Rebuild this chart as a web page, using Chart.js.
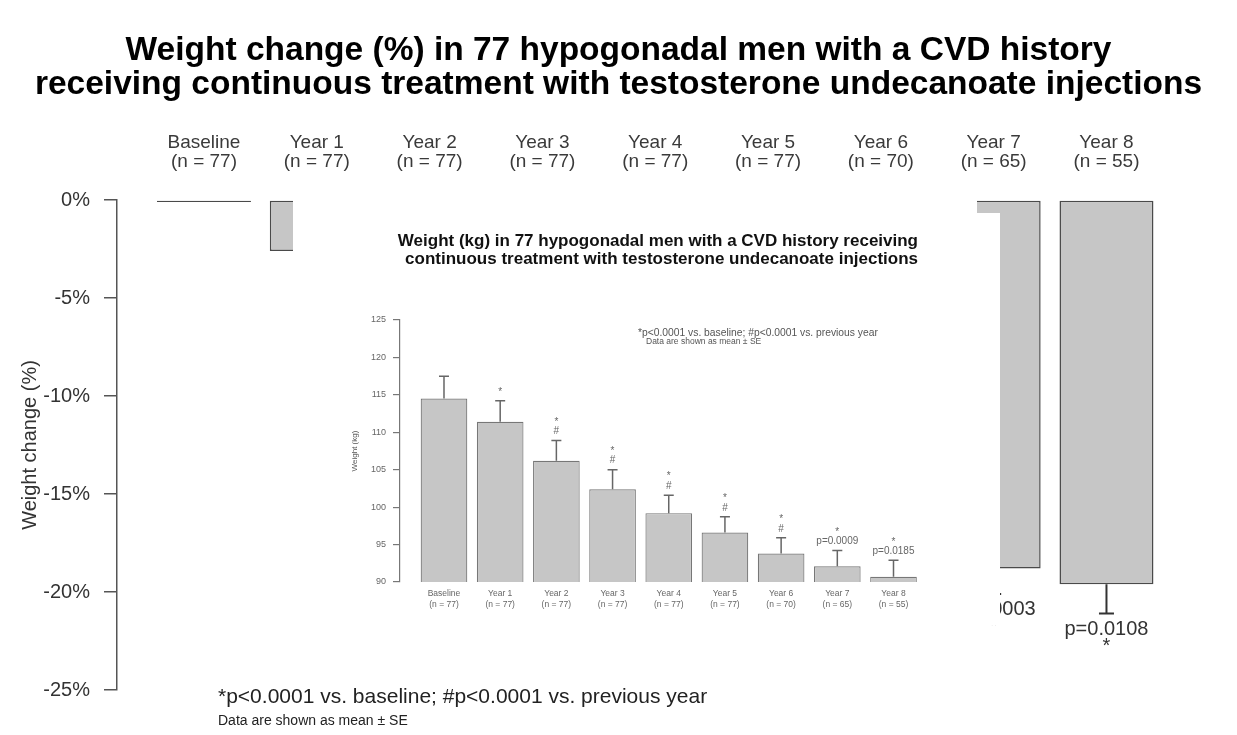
<!DOCTYPE html>
<html>
<head>
<meta charset="utf-8">
<script src="https://cdn.jsdelivr.net/npm/chart.js@4.4.1/dist/chart.umd.min.js"></script>
<style>
    body { margin: 0; background: #fff; }
    #wrap { position: relative; width: 1237px; height: 735px; }
    #inset {
        position: absolute; left: 293px; top: 198px; width: 707px; height: 427px; background: #fff;
        clip-path: polygon(0 0, 684px 0, 684px 15px, 707px 15px, 707px 427px, 0 427px);
    }
</style>
</head>
<body>
<div id="wrap">
    <canvas id="mainChart" width="1237" height="735"></canvas>
    <div id="inset"><canvas id="insetChart" width="707" height="427"></canvas></div>
</div>
<script>
// categories
const years = ["Baseline", "Year 1", "Year 2", "Year 3", "Year 4", "Year 5", "Year 6", "Year 7", "Year 8"];
const nCounts = [77, 77, 77, 77, 77, 77, 70, 65, 55];

// main chart: weight change (%)
const changePct = [0, -2.6, -6.9, -10.3, -13.2, -15.5, -17.6, -18.8, -19.6];
const changeSE = [0, 0.4, 0.6, 0.7, 0.8, 0.9, 1.0, 1.3, 1.5];
const changeNotes = [[], [], [], [], [], [], [], ["p=0.0003", "*"], ["p=0.0108", "*"]];
const pctTicks = [0, -5, -10, -15, -20, -25];

// inset chart: weight (kg)
const weightKg = [114.5, 111.4, 106.2, 102.4, 99.2, 96.6, 93.8, 92.1, 90.7];
const weightSE = [3.0, 2.8, 2.7, 2.6, 2.4, 2.1, 2.1, 2.1, 2.2];
const weightNotes = [[], ["*"], ["#", "*"], ["#", "*"], ["#", "*"], ["#", "*"], ["#", "*"], ["p=0.0009", "*"], ["p=0.0185", "*"]];
const kgTicks = [90, 95, 100, 105, 110, 115, 120, 125];

const FONT = "'Liberation Sans', Arial, sans-serif";
Chart.defaults.font.family = FONT;

function catLabel(v) {
    return [years[v], "(n = " + nCounts[v] + ")"];
}

// one-sided error bars + significance marks
const errorBarPlugin = {
    id: "errorBars",
    afterDatasetsDraw(chart, args, opts) {
        const ctx = chart.ctx;
        const xs = chart.scales.x;
        const ys = chart.scales.y;
        ctx.save();
        ctx.strokeStyle = opts.color;
        ctx.lineWidth = opts.lineWidth;
        ctx.fillStyle = opts.textColor;
        ctx.textAlign = "center";
        ctx.textBaseline = "middle";
        ctx.font = opts.font;
        opts.values.forEach(function (v, i) {
            const x = xs.getPixelForValue(i);
            const end = v + opts.dir * opts.se[i];
            const y0 = ys.getPixelForValue(v);
            const y1 = ys.getPixelForValue(end);
            if (opts.se[i] > 0) {
                ctx.beginPath();
                ctx.moveTo(x, y0);
                ctx.lineTo(x, y1);
                ctx.moveTo(x - opts.cap, y1);
                ctx.lineTo(x + opts.cap, y1);
                ctx.stroke();
            }
            opts.notes[i].forEach(function (txt, k) {
                const ty = y1 - opts.dir * (opts.noteStart + k * opts.noteStep);
                ctx.fillText(txt, x, ty);
            });
        });
        ctx.restore();
    }
};

const footNotePlugin = {
    id: "footNotes",
    afterDraw(chart, args, opts) {
        const ctx = chart.ctx;
        const area = chart.chartArea;
        ctx.save();
        ctx.fillStyle = opts.color;
        ctx.textAlign = "left";
        ctx.textBaseline = "middle";
        opts.lines.forEach(function (ln) {
            ctx.font = ln.font;
            ctx.fillText(ln.text, area.left + ln.dx, (ln.fromBottom ? area.bottom : area.top) + ln.dy);
        });
        ctx.restore();
    }
};

/* MAIN CHART */
new Chart(document.getElementById("mainChart"), {
    type: "bar",
    data: {
        datasets: [{
            data: changePct.map(function (v, i) { return { x: i, y: v }; }),
            backgroundColor: "#c6c6c6",
            borderColor: "#4a4a4a",
            borderWidth: 1.5,
            borderSkipped: false,
            minBarLength: 2,
            barPercentage: 0.833,
            categoryPercentage: 1
        }]
    },
    options: {
        responsive: false,
        animation: false,
        layout: { padding: { left: 0, right: 0, top: 0, bottom: 45 } },
        plugins: {
            legend: { display: false },
            tooltip: { enabled: false },
            title: {
                display: true,
                text: ["Weight change (%) in 77 hypogonadal men with a CVD history",
                       "receiving continuous treatment with testosterone undecanoate injections"],
                font: { size: 33.5, weight: "bold", lineHeight: 34 / 33.5 },
                color: "#000",
                padding: { top: 34, bottom: 0 }
            },
            errorBars: {
                values: changePct, se: changeSE, notes: changeNotes, dir: -1,
                color: "#333", lineWidth: 2, cap: 7.5, textColor: "#333",
                font: "20px " + FONT, noteStart: 16, noteStep: 17
            },
            footNotes: {
                color: "#222",
                lines: [
                    { text: "*p<0.0001 vs. baseline; #p<0.0001 vs. previous year", dx: 101, dy: 7, fromBottom: true, font: "21px " + FONT },
                    { text: "Data are shown as mean \u00b1 SE", dx: 101, dy: 31, fromBottom: true, font: "14px " + FONT }
                ]
            }
        },
        scales: {
            x: {
                type: "linear",
                position: "top",
                offset: false,
                min: -0.771,
                max: 9.157,
                afterBuildTicks: function (s) { s.ticks = years.map(function (_, i) { return { value: i }; }); },
                afterFit: function (s) { s.height = 98; },
                grid: { display: false, drawTicks: false, offset: false },
                border: { display: false },
                ticks: { callback: catLabel, font: { size: 19, lineHeight: 1 }, color: "#3a3a3a", padding: 28.5, autoSkip: false, maxRotation: 0 }
            },
            y: {
                min: -25,
                max: 0,
                afterBuildTicks: function (s) { s.ticks = pctTicks.map(function (v) { return { value: v }; }); },
                afterFit: function (s) { s.width = 117; },
                grid: { drawOnChartArea: false, tickLength: 13, color: "#555", lineWidth: 1.5 },
                border: { color: "#555", width: 1.5 },
                ticks: { callback: function (v) { return v + "%"; }, font: { size: 20 }, color: "#333", padding: 14 },
                title: { display: true, text: "Weight change (%)", font: { size: 20 }, color: "#333", padding: { top: 18, bottom: 0 } }
            }
        }
    },
    plugins: [errorBarPlugin, footNotePlugin]
});

/* INSET CHART */
new Chart(document.getElementById("insetChart"), {
    type: "bar",
    data: {
        datasets: [{
            data: weightKg.map(function (v, i) { return { x: i, y: v }; }),
            backgroundColor: "#c6c6c6",
            borderColor: "#777",
            borderWidth: 1.2,
            borderSkipped: false,
            barPercentage: 0.83,
            categoryPercentage: 1
        }]
    },
    options: {
        responsive: false,
        animation: false,
        layout: { padding: { left: 0, right: 82, top: 0, bottom: 0 } },
        plugins: {
            legend: { display: false },
            tooltip: { enabled: false },
            title: {
                display: true,
                align: "end",
                text: ["Weight (kg) in 77 hypogonadal men with a CVD history receiving",
                       "continuous treatment with testosterone undecanoate injections"],
                font: { size: 17, weight: "bold", lineHeight: 18 / 17 },
                color: "#111",
                padding: { top: 34, bottom: 52 }
            },
            errorBars: {
                values: weightKg, se: weightSE, notes: weightNotes, dir: 1,
                color: "#666", lineWidth: 1.5, cap: 5, textColor: "#666",
                font: "10px " + FONT, noteStart: 9, noteStep: 9.5
            },
            footNotes: {
                color: "#555",
                lines: [
                    { text: "*p<0.0001 vs. baseline; #p<0.0001 vs. previous year", dx: 238, dy: 13, fromBottom: false, font: "10.3px " + FONT },
                    { text: "Data are shown as mean \u00b1 SE", dx: 246, dy: 22, fromBottom: false, font: "8.5px " + FONT }
                ]
            }
        },
        scales: {
            x: {
                type: "linear",
                position: "bottom",
                offset: false,
                min: -0.783,
                max: 8.436,
                afterBuildTicks: function (s) { s.ticks = years.map(function (_, i) { return { value: i }; }); },
                afterFit: function (s) { s.height = 43; },
                grid: { display: false, drawTicks: false, offset: false },
                border: { display: false },
                ticks: { callback: catLabel, font: { size: 8.5, lineHeight: 1.3 }, color: "#666", padding: 6.5, autoSkip: false, maxRotation: 0 }
            },
            y: {
                min: 90,
                max: 125,
                afterBuildTicks: function (s) { s.ticks = kgTicks.map(function (v) { return { value: v }; }); },
                afterFit: function (s) { s.width = 107; },
                grid: { drawOnChartArea: false, tickLength: 7, color: "#777", lineWidth: 1.2 },
                border: { color: "#777", width: 1.2 },
                ticks: { font: { size: 9 }, color: "#666", padding: 7 },
                title: { display: true, text: "Weight (kg)", font: { size: 8 }, color: "#555", padding: { top: 57, bottom: 0 } }
            }
        }
    },
    plugins: [errorBarPlugin, footNotePlugin]
});
</script>
</body>
</html>
